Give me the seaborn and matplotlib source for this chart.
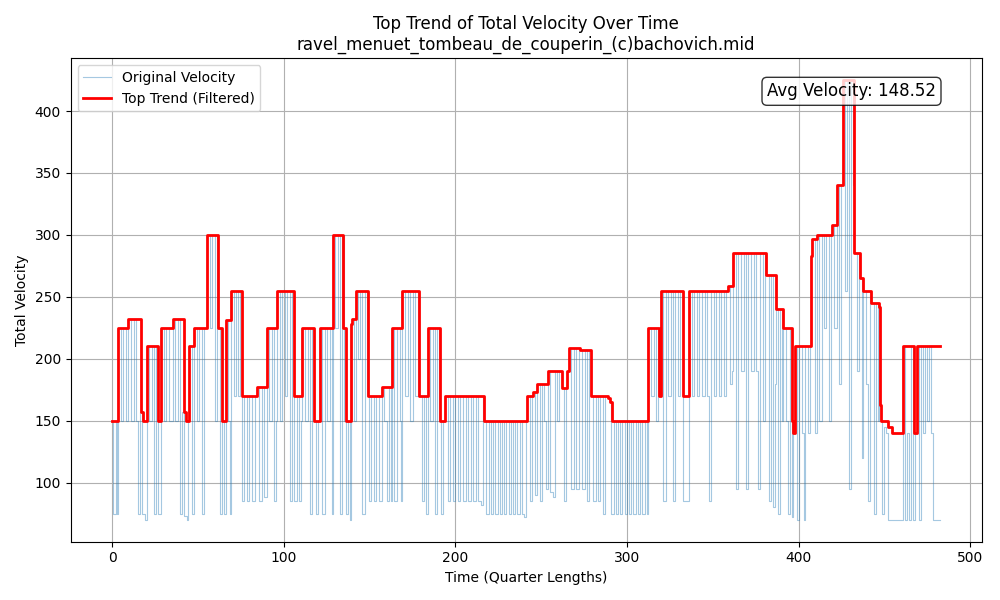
import numpy as np
import pandas as pd
import seaborn as sns
import matplotlib.pyplot as plt

# === Chart text ===
TITLE = "Top Trend of Total Velocity Over Time\nravel_menuet_tombeau_de_couperin_(c)bachovich.mid"
AVG_VELOCITY = 148.52

# === Top trend (filtered) : (time, velocity) change points ===
trend_a = [(0, 150), (3.7, 225), (9.5, 232), (16.9, 157), (18, 150), (20.2, 210), (26.6, 150),
           (28.5, 225), (35.3, 232), (42.1, 157), (43, 150), (45, 210), (47.8, 225), (55.5, 300),
           (61.9, 225), (63.8, 150), (66.1, 231), (69.3, 255), (75.5, 170), (84.3, 177),
           (90.1, 225), (96.3, 255)]
trend_b = [(106, 170), (110.9, 225), (117.8, 150), (121.2, 225), (128.6, 300), (134.7, 225),
           (136.5, 150), (139, 228), (139.8, 232), (141.9, 255), (148.9, 170), (157.1, 177),
           (163, 225), (169.2, 255), (179.1, 170), (184, 225), (191.1, 150), (194.1, 170)]
trend_c = [(216.8, 150), (242, 170), (245, 173), (247.8, 180), (253.9, 190), (262, 176),
           (265, 190), (266, 209), (272.7, 207), (278.9, 170), (288.8, 168), (290, 165),
           (291.5, 150)]
trend_d = [(312.5, 225), (318.6, 170), (319.9, 255), (332.9, 170), (336.2, 255), (358.7, 259),
           (362, 285), (381.1, 268), (386.7, 240), (391.2, 225), (396, 150), (397, 140),
           (398, 210)]
trend_e = [(407.1, 283), (408, 297), (410.6, 300), (419.4, 308), (422.3, 340), (425.8, 425),
           (432.4, 285), (435.8, 265), (437.8, 255), (442.3, 245), (446.6, 242), (447.2, 163),
           (448.3, 150), (452.3, 145), (454.3, 140), (461.1, 210), (467.4, 140), (469, 210),
           (482.5, 210)]

# === Original velocity : (time, velocity) ===
orig_a = [(0, 150), (0.8, 75), (2.2, 150), (3.0, 75), (3.7, 225), (5.2, 150), (6.6, 225), (8.0, 150),
          (9.5, 232), (11.0, 150), (12.5, 232), (14.0, 150), (15.0, 75), (16.3, 157), (17.5, 75),
          (19.0, 70), (20.2, 210), (21.8, 150), (23.3, 210), (24.6, 75), (25.6, 210), (26.8, 75),
          (28.5, 225), (30.0, 150), (31.5, 225), (33.0, 150), (35.3, 232), (36.8, 150), (38.3, 232),
          (39.6, 75), (41.0, 157), (42.2, 73), (43.4, 70), (44.4, 150), (45.0, 210), (46.3, 75),
          (47.8, 225), (49.3, 150)]
orig_b = [(50.8, 225), (52.2, 75), (53.5, 225), (55.5, 300), (57.0, 225), (58.3, 300), (59.7, 150),
          (61.0, 300), (61.9, 225), (62.8, 75), (64.2, 150), (65.3, 75), (66.1, 231), (67.6, 150),
          (68.5, 75), (69.3, 255), (70.8, 170), (72.3, 255), (73.6, 170), (74.6, 255), (75.5, 85),
          (77.0, 170), (78.5, 85), (80.0, 170), (81.5, 85), (83.0, 170), (84.3, 177), (85.8, 85),
          (87.3, 177), (88.8, 88), (90.1, 225), (91.6, 150), (93.1, 225), (94.5, 85), (95.5, 150),
          (96.3, 255), (97.8, 150), (99.2, 255)]
orig_c = [(100.6, 170), (102.0, 255), (103.5, 85), (104.8, 255), (106.0, 85), (107.5, 170),
          (109.0, 85), (110.2, 150), (110.9, 225), (112.4, 150), (113.9, 225), (115.4, 75),
          (116.6, 225), (117.8, 150), (118.8, 75), (120.2, 150), (121.2, 225), (122.6, 75),
          (124.0, 225), (125.4, 150), (126.8, 225), (128.0, 75), (128.6, 300), (130.1, 225),
          (131.5, 300), (133.0, 75), (134.2, 300), (135.0, 150), (136.2, 75), (137.6, 150),
          (138.5, 70), (139.0, 228), (139.8, 232), (141.0, 150), (141.9, 255), (143.3, 200),
          (144.7, 255), (145.8, 75), (147.2, 255), (148.5, 170), (149.6, 85)]
orig_d = [(151.0, 170), (152.5, 85), (154.0, 170), (155.5, 85), (157.1, 177), (158.6, 150),
          (160.0, 85), (161.3, 177), (162.3, 85), (163.0, 225), (164.5, 85), (166.0, 225),
          (167.5, 150), (168.6, 85), (169.2, 255), (170.7, 170), (172.2, 255), (173.7, 150),
          (175.2, 255), (176.7, 170), (178.0, 255), (179.1, 170), (180.5, 85), (181.8, 170),
          (183.0, 75), (184.0, 225), (185.5, 150), (187.0, 225), (188.3, 75), (189.5, 225),
          (190.5, 150), (191.5, 75), (193.0, 150), (194.1, 170), (195.5, 85), (197.0, 170),
          (198.5, 85)]
orig_e = [(200.0, 170), (201.5, 85), (203.0, 170), (204.5, 85), (206.0, 170), (207.5, 85),
          (209.0, 170), (210.5, 85), (212.0, 170), (213.5, 85), (215.0, 82), (216.0, 170),
          (216.8, 150), (218.0, 75), (219.4, 150), (220.6, 75), (222.0, 150), (223.2, 75),
          (224.6, 150), (225.8, 75), (227.2, 150), (228.4, 75), (229.8, 150), (231.0, 75),
          (232.4, 150), (233.6, 75), (235.0, 150), (236.2, 75), (237.6, 150), (238.8, 75),
          (240.0, 72), (241.2, 150), (242.0, 170), (243.4, 85), (244.5, 170), (245.0, 173),
          (246.4, 90), (247.8, 180), (249.2, 85)]
orig_f = [(250.4, 180), (251.8, 150), (253.0, 95), (253.9, 190), (255.4, 92), (256.8, 88),
          (258.0, 190), (259.4, 150), (260.6, 190), (262.0, 176), (263.2, 85), (264.4, 176),
          (265.0, 190), (266.0, 209), (267.5, 95), (269.0, 209), (270.5, 95), (271.8, 209),
          (272.7, 207), (274.0, 95), (275.4, 207), (276.8, 85), (278.0, 207), (278.9, 170),
          (280.3, 85), (281.7, 170), (283.1, 85), (284.5, 170), (285.9, 75), (287.3, 170),
          (288.8, 168), (290.0, 165), (290.8, 75), (292.2, 150), (293.4, 75), (294.8, 150),
          (296.0, 75), (297.4, 150), (298.6, 75)]
orig_g = [(300.0, 150), (301.2, 75), (302.6, 150), (303.8, 75), (305.2, 150), (306.4, 75),
          (307.8, 150), (309.0, 75), (310.4, 150), (311.6, 75), (312.5, 225), (314.0, 170),
          (315.5, 225), (317.0, 150), (318.2, 225), (318.6, 170), (319.9, 255), (321.3, 85),
          (322.7, 255), (324.1, 170), (325.5, 255), (326.9, 85), (328.3, 255), (329.7, 170),
          (331.1, 255), (332.5, 85), (334.0, 85), (336.2, 255), (337.7, 170), (339.2, 255),
          (340.7, 170), (342.2, 255), (343.7, 170), (345.2, 255), (346.7, 170), (348.0, 85),
          (349.2, 255)]
orig_h = [(350.6, 170), (352.0, 255), (353.5, 170), (355.0, 255), (356.5, 170), (358.0, 255),
          (358.7, 259), (360.2, 180), (361.2, 190), (362.0, 285), (363.5, 95), (365.0, 285),
          (366.5, 190), (368.0, 285), (369.4, 95), (370.8, 285), (372.3, 190), (373.8, 285),
          (375.3, 190), (376.6, 95), (377.8, 285), (379.2, 150), (380.2, 285), (381.1, 268),
          (382.5, 85), (383.8, 268), (385.0, 80), (386.0, 180), (386.7, 240), (388.0, 75),
          (389.4, 240), (390.4, 150), (391.2, 225), (392.6, 150), (394.0, 75), (395.0, 225),
          (396.0, 72), (397.0, 140), (398.0, 210), (399.2, 70)]
orig_i = [(400.4, 210), (401.8, 140), (403.0, 70), (404.0, 210), (405.4, 140), (406.4, 210),
          (407.1, 283), (408.0, 297), (409.4, 140), (410.6, 300), (412.0, 150), (413.4, 300),
          (414.8, 225), (416.2, 300), (417.6, 150), (419.0, 300), (419.4, 308), (420.8, 225),
          (422.3, 340), (423.7, 180), (425.0, 340), (425.8, 425), (427.2, 255), (428.5, 425),
          (429.6, 95), (430.8, 425), (431.8, 340), (432.4, 285), (433.8, 190), (435.0, 285),
          (435.8, 265), (436.8, 120), (437.8, 255), (439.2, 180), (440.6, 85), (441.6, 255),
          (442.3, 245), (443.7, 75), (445.0, 245), (446.0, 150), (446.6, 242), (447.2, 163),
          (447.8, 150), (448.8, 75), (450.0, 145), (451.2, 140), (452.3, 70), (461.1, 210),
          (462.0, 70), (463.2, 140), (464.4, 70), (465.6, 210), (466.6, 70), (467.6, 140),
          (469.0, 210), (470.2, 70), (471.4, 210), (472.6, 140), (473.8, 210), (475.0, 150),
          (476.2, 210), (477.4, 140), (478.2, 70), (482.5, 70)]

# Build frames
orig = pd.DataFrame(orig_a + orig_b + orig_c + orig_d + orig_e + orig_f + orig_g + orig_h + orig_i,
                    columns=["time", "velocity"])
trend = pd.DataFrame(trend_a + trend_b + trend_c + trend_d + trend_e, columns=["time", "velocity"])

# === Plot ===
fig, ax = plt.subplots(figsize=(10, 6), dpi=100)

sns.lineplot(data=orig, x="time", y="velocity", ax=ax, estimator=None, sort=False,
             drawstyle="steps-post", color="tab:blue", alpha=0.4, linewidth=0.8,
             label="Original Velocity")
sns.lineplot(data=trend, x="time", y="velocity", ax=ax, estimator=None, sort=False,
             drawstyle="steps-post", color="red", linewidth=2,
             label="Top Trend (Filtered)")

ax.set_title(TITLE)
ax.set_xlabel("Time (Quarter Lengths)")
ax.set_ylabel("Total Velocity")
ax.grid(True)
ax.legend(loc="upper left")

ax.text(0.95, 0.95, f"Avg Velocity: {AVG_VELOCITY:.2f}", transform=ax.transAxes,
        fontsize=12, ha="right", va="top",
        bbox=dict(boxstyle="round", facecolor="white", alpha=0.8))

plt.tight_layout()
plt.savefig("out.png")
